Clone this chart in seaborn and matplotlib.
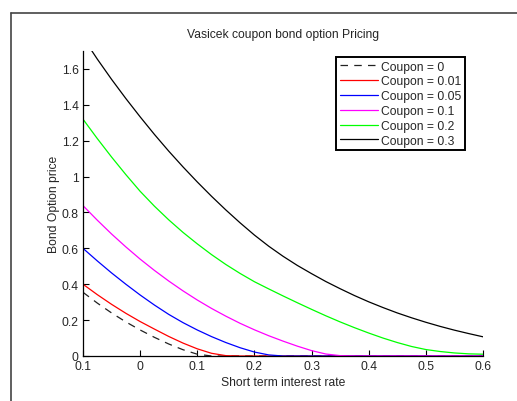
import matplotlib
matplotlib.use("Agg")
import matplotlib.pyplot as plt
from matplotlib.lines import Line2D
import seaborn as sns
import pandas as pd

# ---- data ----
rate = [-0.1, -0.075, -0.05, -0.025, 0.0, 0.025, 0.05, 0.075, 0.1, 0.125,
        0.15, 0.175, 0.2, 0.225, 0.25, 0.275, 0.3, 0.325, 0.35, 0.375,
        0.4, 0.425, 0.45, 0.475, 0.5, 0.525, 0.55, 0.575, 0.6]
coupon_0 = [0.355, 0.295, 0.24, 0.19, 0.145, 0.104, 0.067, 0.035, 0.01, 0.0,
            0.0, 0.0, 0.0, 0.0, 0.0, 0.0, 0.0, 0.0, 0.0, 0.0,
            0.0, 0.0, 0.0, 0.0, 0.0, 0.0, 0.0, 0.0, 0.0]
coupon_001 = [0.40, 0.342, 0.288, 0.238, 0.192, 0.15, 0.109, 0.072, 0.04, 0.015,
              0.002, 0.0, 0.0, 0.0, 0.0, 0.0, 0.0, 0.0, 0.0, 0.0,
              0.0, 0.0, 0.0, 0.0, 0.0, 0.0, 0.0, 0.0, 0.0]
coupon_005 = [0.60, 0.53, 0.463, 0.40, 0.34, 0.284, 0.232, 0.186, 0.145, 0.108,
              0.075, 0.046, 0.022, 0.006, 0.0, 0.0, 0.0, 0.0, 0.0, 0.0,
              0.0, 0.0, 0.0, 0.0, 0.0, 0.0, 0.0, 0.0, 0.0]
coupon_01 = [0.838, 0.757, 0.68, 0.608, 0.54, 0.477, 0.418, 0.363, 0.312, 0.265,
             0.222, 0.182, 0.146, 0.113, 0.083, 0.055, 0.03, 0.011, 0.002, 0.0,
             0.0, 0.0, 0.0, 0.0, 0.0, 0.0, 0.0, 0.0, 0.0]
coupon_02 = [1.32, 1.212, 1.109, 1.011, 0.918, 0.835, 0.759, 0.689, 0.625, 0.565,
             0.51, 0.46, 0.414, 0.374, 0.335, 0.297, 0.26, 0.224, 0.19, 0.158,
             0.128, 0.10, 0.075, 0.053, 0.036, 0.025, 0.017, 0.012, 0.01]
coupon_03 = [1.775, 1.655, 1.542, 1.435, 1.333, 1.235, 1.142, 1.054, 0.97, 0.89,
             0.814, 0.742, 0.674, 0.612, 0.556, 0.505, 0.459, 0.415, 0.375, 0.337,
             0.302, 0.27, 0.24, 0.213, 0.188, 0.165, 0.144, 0.125, 0.107]

labels = ["Coupon = 0", "Coupon = 0.01", "Coupon = 0.05",
          "Coupon = 0.1", "Coupon = 0.2", "Coupon = 0.3"]
colors = ["#222222", "#ff0000", "#0000ff", "#ff00ff", "#00ff00", "#000000"]
styles = [(0, (6, 5)), "-", "-", "-", "-", "-"]

x_ticks = [-0.1, 0.0, 0.1, 0.2, 0.3, 0.4, 0.5, 0.6]
x_tick_labels = ["0.1", "0", "0.1", "0.2", "0.3", "0.4", "0.5", "0.6"]
y_ticks = [0, 0.2, 0.4, 0.6, 0.8, 1.0, 1.2, 1.4, 1.6]
y_tick_labels = ["0", "0.2", "0.4", "0.6", "0.8", "1", "1.2", "1.4", "1.6"]

series = [coupon_0, coupon_001, coupon_005, coupon_01, coupon_02, coupon_03]

# ---- style ----
sns.set_style("white")
plt.rcParams["font.family"] = ["Liberation Sans", "DejaVu Sans"]
FS = 8.7

W, H = 517, 402
fig = plt.figure(figsize=(W / 100, H / 100), dpi=100)
fig.patch.set_facecolor("white")
ax = fig.add_axes([83 / W, 1 - 357 / H, (483 - 83) / W, (357 - 52) / H])
ax.set_facecolor("white")

for vals, lab, col, ls in zip(series, labels, colors, styles):
    df = pd.DataFrame({"rate": rate, "price": vals})
    sns.lineplot(data=df, x="rate", y="price", ax=ax, color=col,
                 linestyle=ls, linewidth=0.9, label=lab)

ax.set_xlim(-0.1, 0.6)
ax.set_ylim(0, 1.7)
ax.set_xticks(x_ticks)
ax.set_xticklabels(x_tick_labels)
ax.set_yticks(y_ticks)
ax.set_yticklabels(y_tick_labels)
ax.tick_params(direction="in", length=4, width=0.8, color="black",
               labelsize=FS, pad=3, bottom=True, left=True)
for s in ["top", "right"]:
    ax.spines[s].set_visible(False)
for s in ["left", "bottom"]:
    ax.spines[s].set_color("black")
    ax.spines[s].set_linewidth(0.9)

ax.set_title("Vasicek coupon bond option Pricing", fontsize=FS, pad=10)
ax.set_xlabel("Short term interest rate", fontsize=FS, labelpad=3)
ax.set_ylabel("Bond Option price", fontsize=FS, labelpad=1.5)

leg = ax.legend(loc="upper left", bbox_to_anchor=(336 / W, 1 - 58 / H),
                bbox_transform=fig.transFigure, fontsize=FS, frameon=True,
                fancybox=False, framealpha=1, borderpad=0.3,
                labelspacing=0.23, handlelength=3.2, handletextpad=0.25,
                borderaxespad=0)
leg.get_frame().set_edgecolor("black")
leg.get_frame().set_linewidth(1.4)

# outer frame (left and top edges visible)
fig.add_artist(Line2D([10.5 / W, 10.5 / W], [0, 1 - 14 / H], color="#444444",
                      linewidth=1.2, transform=fig.transFigure))
fig.add_artist(Line2D([10.5 / W, 1], [1 - 14 / H, 1 - 14 / H], color="#444444",
                      linewidth=1.2, transform=fig.transFigure))

fig.savefig("out.png", dpi=100)
